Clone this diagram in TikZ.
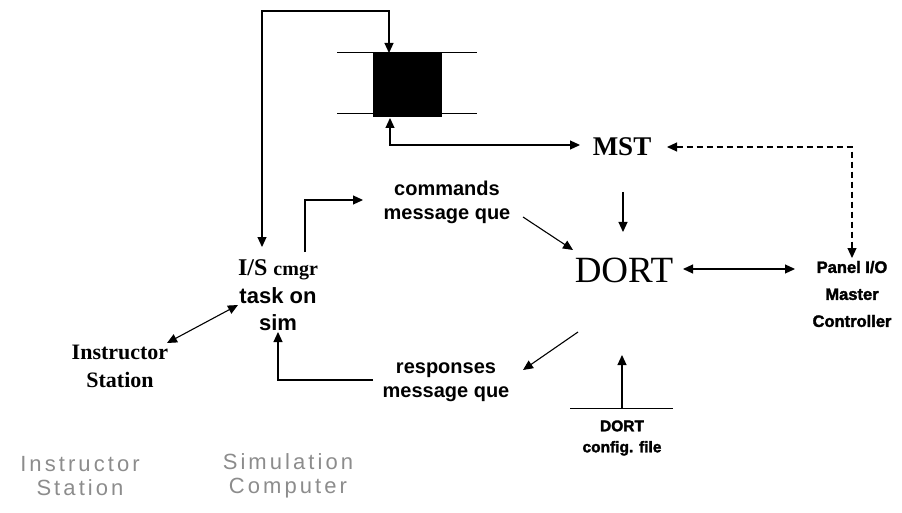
\documentclass[tikz,border=0pt]{standalone}
\usepackage{fontspec}
\setmainfont{Liberation Serif}
\newfontfamily\sansfam{Liberation Sans}
\newfontfamily\heavyfam[BoldFeatures={FakeBold=2}]{Liberation Sans}
\newfontfamily\grayfam[LetterSpace=14]{Liberation Sans}
\usetikzlibrary{arrows.meta}
\begin{document}
\begin{tikzpicture}[x=1pt,y=-1pt,
  conn/.style={line width=1.1pt,-{Triangle[length=10pt,width=9pt]}},
  dconn/.style={line width=1.1pt,{Triangle[length=10pt,width=9pt]}-{Triangle[length=10pt,width=9pt]}},
  thin/.style={line width=1pt},
  lbl/.style={inner sep=0pt,align=center},
  sanslbl/.style={lbl,font=\sansfam\bfseries\fontsize{20}{24}\selectfont},
  heavylbl/.style={lbl,font=\heavyfam\bfseries\fontsize{16.5}{27}\selectfont},
  graylbl/.style={lbl,text=black!45,font=\grayfam\fontsize{22}{24}\selectfont}]
\useasboundingbox (0,0) rectangle (902,513);
% queue box
\node[fill=black,minimum width=69pt,minimum height=64pt,inner sep=0pt] (box) at (407.5,85) {};
\coordinate (tl) at (337,53); \coordinate (tr) at (477,53);
\coordinate (bl) at (337,114); \coordinate (br) at (477,114);
\draw[thin] (tl) -- (tr);
\draw[thin] (bl) -- (br);
% labels
\node[lbl,font=\bfseries\fontsize{27}{30}\selectfont] (mst) at (622,147) {MST};
\node[lbl,font=\fontsize{37}{40}\selectfont] (dort) at (624,270) {DORT};
\node[heavylbl] (panel) at (852,294) {Panel I/O\\Master\\Controller};
\node[sanslbl] (cmd) at (447,202) {commands\\message que};
\node[sanslbl] (resp) at (446,382) {responses\\message que};
\node[lbl] (isc) at (278,270) {\bfseries\fontsize{24}{26}\selectfont I/S \fontsize{20}{26}\selectfont cmgr};
\node[lbl,font=\sansfam\bfseries\fontsize{22}{27}\selectfont] (task) at (278,309) {task on\\sim};
\node[lbl,font=\bfseries\fontsize{22}{28}\selectfont] (inst) at (120,366) {Instructor\\Station};
\node[lbl,font=\heavyfam\bfseries\fontsize{15.5}{21}\selectfont] (cfg) at (622,438) {DORT\\config. file};
\coordinate (cl) at (570,408); \coordinate (cr) at (673,408);
\draw[thin] (cl) -- (cr);
\node[graylbl] (g1) at (80,476) {Instructor\\Station};
\node[graylbl] (g2) at (288,476) {Simulation\\Computer};
% connectors
\coordinate (a1) at (262,247); \coordinate (a2) at (262,11); \coordinate (a3) at (389,11); \coordinate (a4) at (389,53);
\draw[dconn] (a1) -- (a2) -- (a3) -- (a4);
\coordinate (b1) at (390,118); \coordinate (b2) at (390,145); \coordinate (b3) at (580,145);
\draw[dconn] (b1) -- (b2) -- (b3);
\coordinate (c1) at (667,147); \coordinate (c2) at (852,147); \coordinate (c3) at (852,258);
\draw[dconn,dashed,dash pattern=on 6pt off 4pt] (c1) -- (c2) -- (c3);
\coordinate (d1) at (623,192); \coordinate (d2) at (623,232);
\draw[conn] (d1) -- (d2);
\coordinate (e1) at (305,252); \coordinate (e2) at (305,200); \coordinate (e3) at (363,200);
\draw[conn] (e1) -- (e2) -- (e3);
\coordinate (f1) at (523,217); \coordinate (f2) at (573,250);
\draw[conn] (f1) -- (f2);
\coordinate (h1) at (683,269); \coordinate (h2) at (795,269);
\draw[dconn] (h1) -- (h2);
\coordinate (i1) at (167,343); \coordinate (i2) at (238,305);
\draw[dconn] (i1) -- (i2);
\coordinate (j1) at (578,332); \coordinate (j2) at (523,370);
\draw[conn] (j1) -- (j2);
\coordinate (k1) at (373,380); \coordinate (k2) at (278,380); \coordinate (k3) at (278,332);
\draw[conn] (k1) -- (k2) -- (k3);
\coordinate (m1) at (622,408); \coordinate (m2) at (622,355);
\draw[conn] (m1) -- (m2);
\end{tikzpicture}
\end{document}
